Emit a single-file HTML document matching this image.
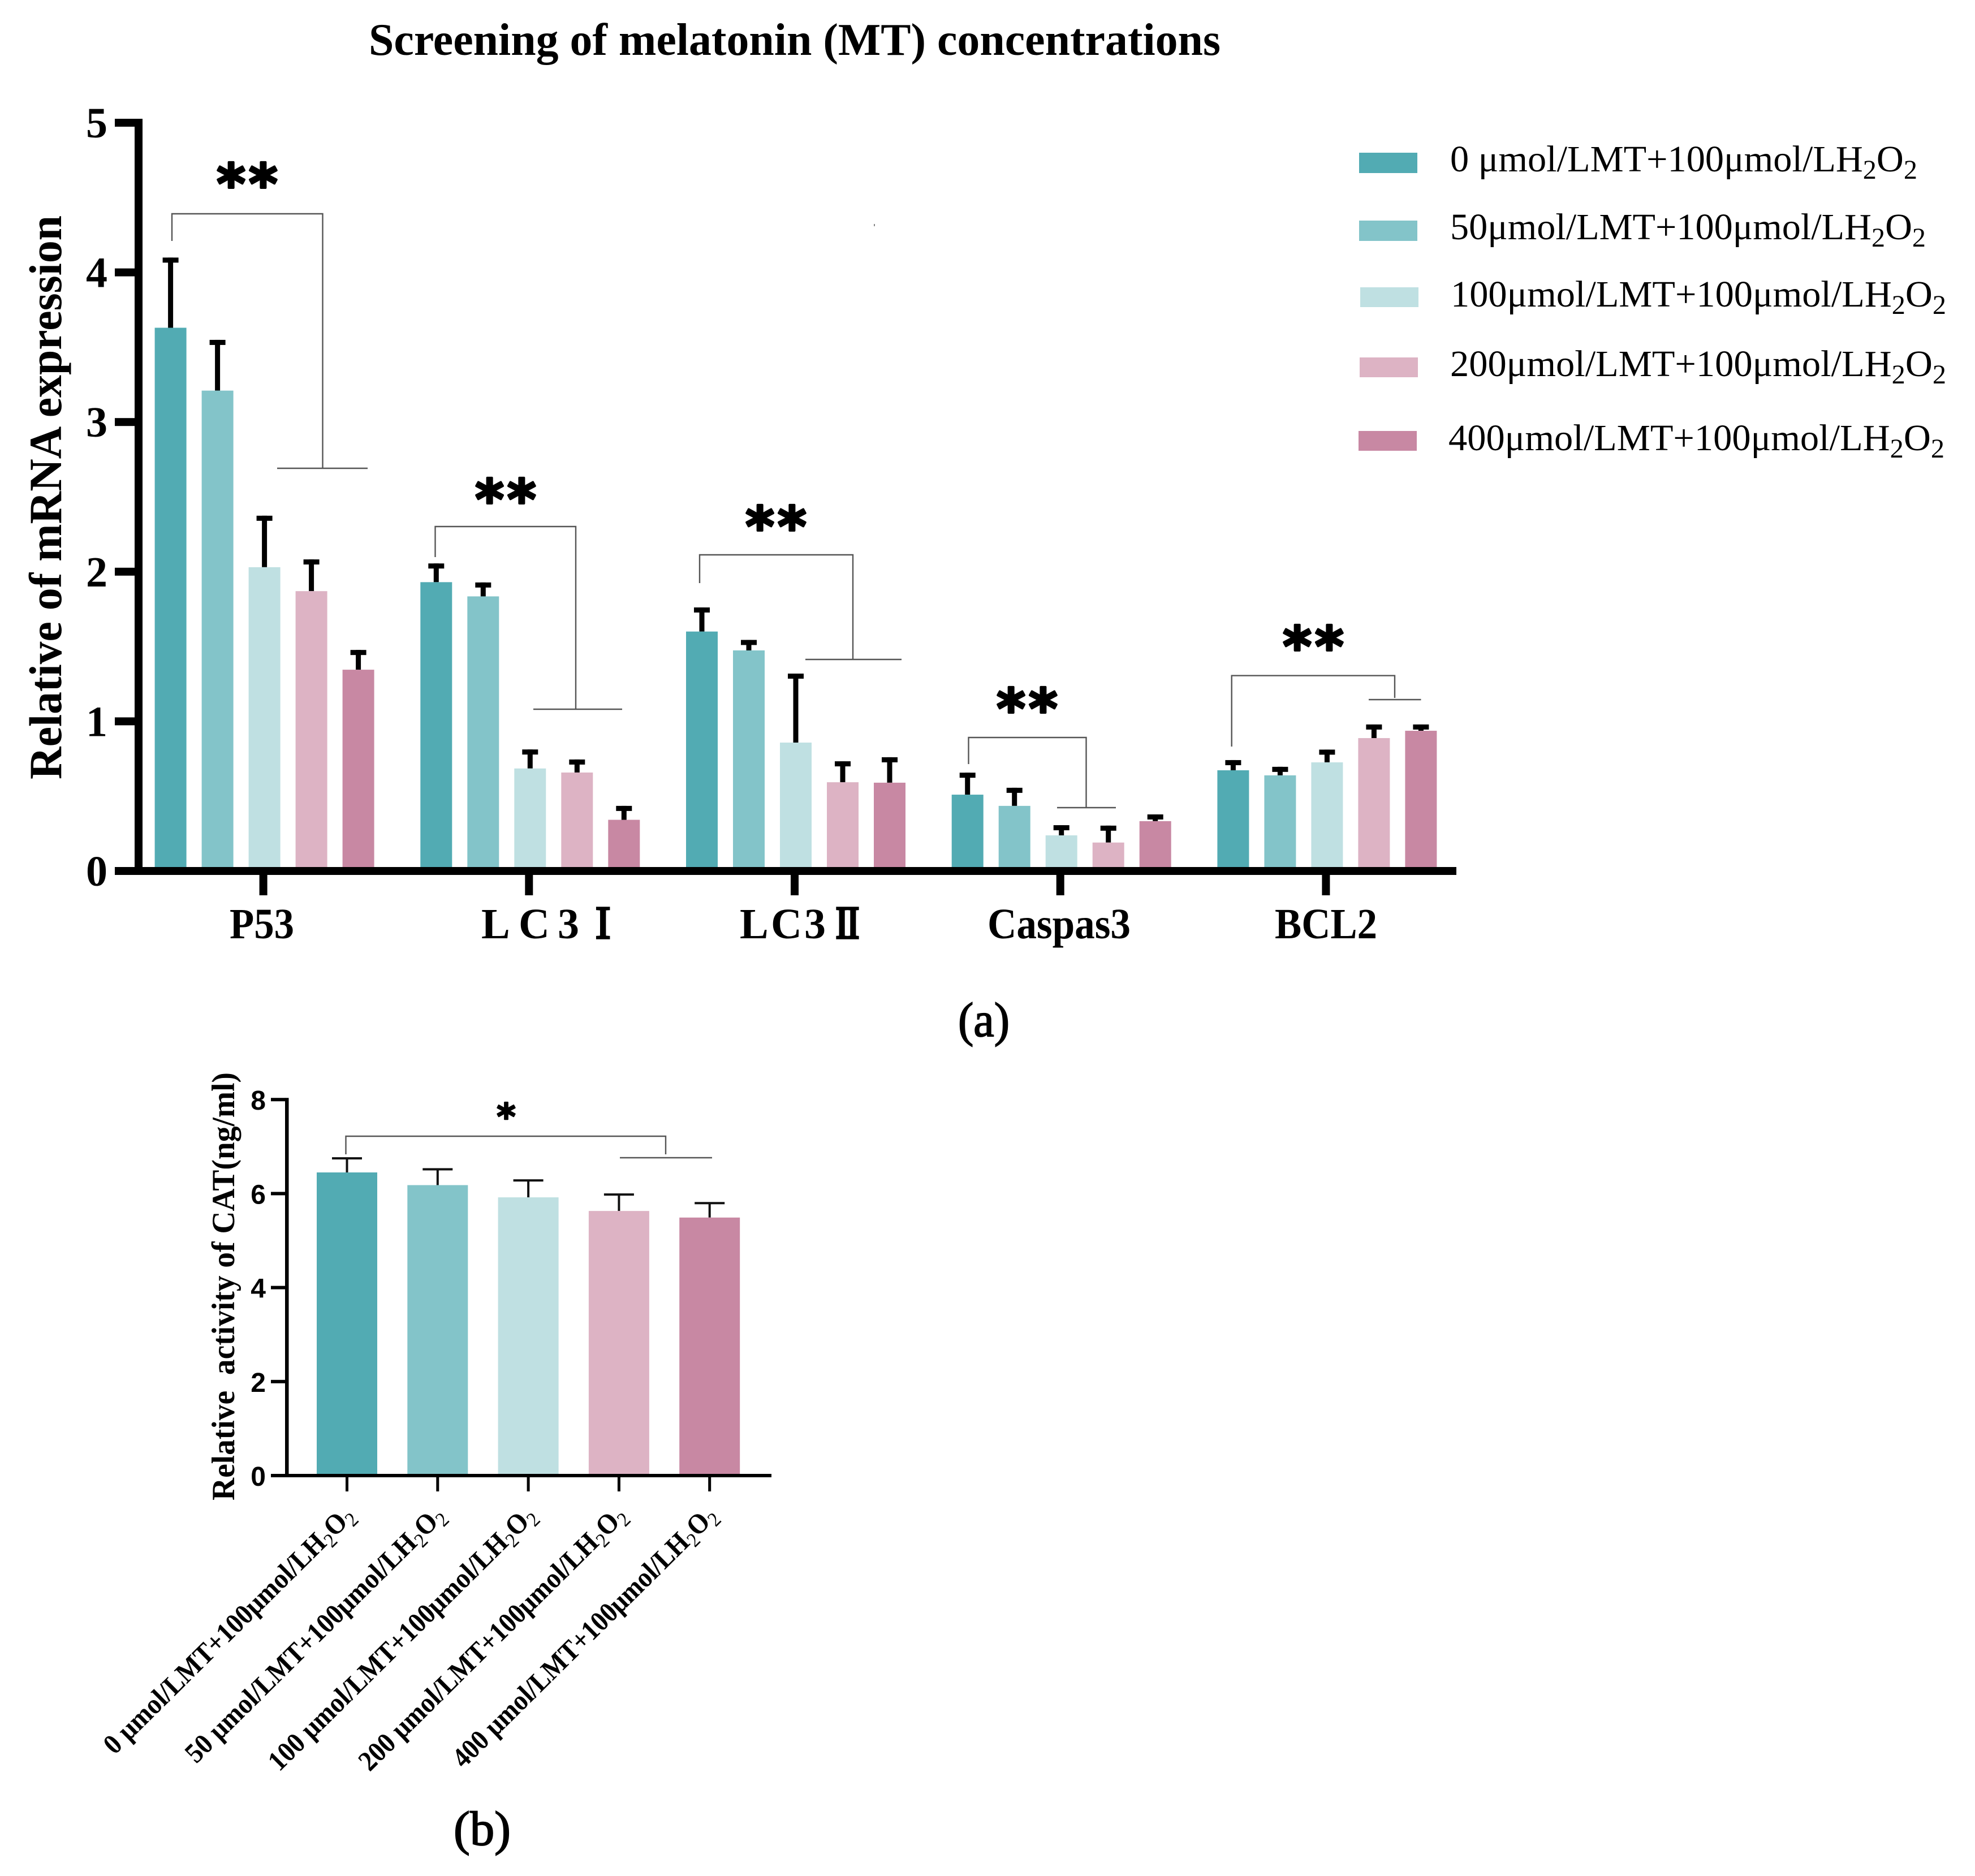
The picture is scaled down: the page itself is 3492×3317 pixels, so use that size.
<!DOCTYPE html>
<html lang="en">
<head>
<meta charset="utf-8">
<title>Screening of melatonin (MT) concentrations</title>
<style>
html,body{margin:0;padding:0;background:#fff}
svg{display:block}
text{font-family:"Liberation Serif","Noto Serif CJK SC",serif;fill:#000;white-space:pre}
.b{font-weight:bold}
.star{font-family:"DejaVu Sans",sans-serif;font-weight:bold;text-anchor:middle;stroke:#000;stroke-width:4;stroke-linejoin:round}
.leg{font-size:66px}
.br{stroke:#555;stroke-width:2.4;fill:none}
.num{stroke:#000;stroke-width:3.5}
.rot{font-size:50px;font-weight:bold;text-anchor:end}
.rot tspan.s{font-size:36px;font-weight:normal}
</style>
</head>
<body>
<svg id="figure" xmlns="http://www.w3.org/2000/svg" width="3492" height="3317" viewBox="0 0 3492 3317">
  <rect width="3492" height="3317" fill="#fff"/>
  <text class="b" x="652" y="97" font-size="80" textLength="1506" lengthAdjust="spacingAndGlyphs">Screening of melatonin (MT) concentrations</text>

  <g id="chartA"></g>
  <text class="b" transform="translate(108,1378) rotate(-90)" font-size="82" textLength="997" lengthAdjust="spacingAndGlyphs">Relative of mRNA expression</text>

  <text class="b" x="406" y="1659" font-size="76" textLength="114" lengthAdjust="spacingAndGlyphs">P53</text>
  <g>
    <text class="b" y="1659" font-size="76"><tspan x="851">L </tspan><tspan x="917">C </tspan><tspan x="986">3</tspan></text>
    <text class="b num" transform="translate(1060,1659) scale(.78,1)" x="-28" font-size="72">Ⅰ</text>
  </g>
  <g>
    <text class="b" y="1659" font-size="76"><tspan x="1308">L</tspan><tspan x="1363">C</tspan><tspan x="1422">3</tspan></text>
    <text class="b num" transform="translate(1481,1659) scale(.76,1)" x="-13" font-size="72">Ⅱ</text>
  </g>
  <text class="b" x="1746" y="1659" font-size="76" textLength="253" lengthAdjust="spacingAndGlyphs">Caspas3</text>
  <text class="b" x="2254" y="1659" font-size="76" textLength="181" lengthAdjust="spacingAndGlyphs">BCL2</text>

  <g>
    <path class="br" d="M304 426V378H570.5V828M490 828H650"/>
    <path class="br" d="M769.5 985V931H1018V1254M943 1254H1100"/>
    <path class="br" d="M1237 1031V981H1508V1166M1424 1166H1594"/>
    <path class="br" d="M1712.5 1351V1304H1920.5V1428M1869 1428H1973"/>
    <path class="br" d="M2177.7 1320V1194.6H2466V1234M2420 1237H2512.5"/>
  </g>
  <text class="star" x="440" y="359" font-size="97" letter-spacing="6">**</text>
  <text class="star" x="897" y="917" font-size="97" letter-spacing="6">**</text>
  <text class="star" x="1375" y="965" font-size="97" letter-spacing="6">**</text>
  <text class="star" x="1819" y="1287" font-size="97" letter-spacing="6">**</text>
  <text class="star" x="2325" y="1177" font-size="97" letter-spacing="6">**</text>
  <rect x="1545" y="396" width="2" height="4" fill="#888"/>

  <g>
    <g>
      <rect x="2403" y="270" width="103" height="36" fill="#52abb3"/>
      <text class="leg" x="2564" y="303" textLength="826" lengthAdjust="spacingAndGlyphs">0 μmol/LMT+100μmol/LH<tspan font-size="48" dy="13">2</tspan><tspan dy="-13">O</tspan><tspan font-size="48" dy="13">2</tspan></text>
    </g>
    <g>
      <rect x="2403" y="390" width="103" height="36" fill="#83c4c9"/>
      <text class="leg" x="2564" y="423" textLength="841" lengthAdjust="spacingAndGlyphs">50μmol/LMT+100μmol/LH<tspan font-size="48" dy="13">2</tspan><tspan dy="-13">O</tspan><tspan font-size="48" dy="13">2</tspan></text>
    </g>
    <g>
      <rect x="2405" y="508" width="103" height="35" fill="#bfe0e2"/>
      <text class="leg" x="2565" y="542" textLength="876" lengthAdjust="spacingAndGlyphs">100μmol/LMT+100μmol/LH<tspan font-size="48" dy="13">2</tspan><tspan dy="-13">O</tspan><tspan font-size="48" dy="13">2</tspan></text>
    </g>
    <g>
      <rect x="2404" y="632" width="103" height="35" fill="#ddb3c4"/>
      <text class="leg" x="2564" y="665" textLength="877" lengthAdjust="spacingAndGlyphs">200μmol/LMT+100μmol/LH<tspan font-size="48" dy="13">2</tspan><tspan dy="-13">O</tspan><tspan font-size="48" dy="13">2</tspan></text>
    </g>
    <g>
      <rect x="2402" y="762" width="103" height="35" fill="#c888a3"/>
      <text class="leg" x="2561" y="796" textLength="877" lengthAdjust="spacingAndGlyphs">400μmol/LMT+100μmol/LH<tspan font-size="48" dy="13">2</tspan><tspan dy="-13">O</tspan><tspan font-size="48" dy="13">2</tspan></text>
    </g>
  </g>

  <text x="1694" y="1832" font-size="86" textLength="91" lengthAdjust="spacingAndGlyphs" stroke="#000" stroke-width="1.8">(a)</text>

  <g id="chartB"></g>
  <text class="b" transform="translate(414,2653) rotate(-90)" font-size="57" textLength="757" lengthAdjust="spacingAndGlyphs">Relative  activity of CAT(ng/ml)</text>
  <path class="br" d="M611.5 2041V2009H1177V2041M1096 2047H1259"/>
  <text class="star" x="895" y="1997" font-size="64" style="stroke-width:2.5">*</text>

  <g>
    <text class="rot" transform="translate(629,2682) rotate(-44.7)" textLength="600" lengthAdjust="spacingAndGlyphs">0 μmol/LMT+100μmol/LH<tspan class="s" dy="10">2</tspan><tspan dy="-10">O</tspan><tspan class="s" dy="10">2</tspan></text>
    <text class="rot" transform="translate(789,2682) rotate(-44.7)" textLength="622" lengthAdjust="spacingAndGlyphs">50 μmol/LMT+100μmol/LH<tspan class="s" dy="10">2</tspan><tspan dy="-10">O</tspan><tspan class="s" dy="10">2</tspan></text>
    <text class="rot" transform="translate(950,2682) rotate(-44.7)" textLength="642" lengthAdjust="spacingAndGlyphs">100 μmol/LMT+100μmol/LH<tspan class="s" dy="10">2</tspan><tspan dy="-10">O</tspan><tspan class="s" dy="10">2</tspan></text>
    <text class="rot" transform="translate(1110,2682) rotate(-44.7)" textLength="642" lengthAdjust="spacingAndGlyphs">200 μmol/LMT+100μmol/LH<tspan class="s" dy="10">2</tspan><tspan dy="-10">O</tspan><tspan class="s" dy="10">2</tspan></text>
    <text class="rot" transform="translate(1270,2682) rotate(-44.7)" textLength="634" lengthAdjust="spacingAndGlyphs">400 μmol/LMT+100μmol/LH<tspan class="s" dy="10">2</tspan><tspan dy="-10">O</tspan><tspan class="s" dy="10">2</tspan></text>
  </g>

  <text x="802" y="3262" font-size="86" textLength="101" lengthAdjust="spacingAndGlyphs" stroke="#000" stroke-width="1.8">(b)</text>
</svg>

<script>
// Panel (a): relative mRNA expression
const genes = ["P53", "LC3 I", "LC3 II", "Caspas3", "BCL2"];
const ticksA = [0, 1, 2, 3, 4, 5];
const mean0 = [3.63, 1.93, 1.60, 0.51, 0.673];
const mean50 = [3.21, 1.835, 1.474, 0.435, 0.639];
const mean100 = [2.03, 0.685, 0.858, 0.238, 0.726];
const mean200 = [1.87, 0.658, 0.593, 0.19, 0.888];
const mean400 = [1.345, 0.342, 0.59, 0.333, 0.937];
const err0 = [0.469, 0.125, 0.161, 0.147, 0.068];
const err50 = [0.339, 0.093, 0.07, 0.121, 0.057];
const err100 = [0.344, 0.127, 0.461, 0.068, 0.085];
const err200 = [0.212, 0.087, 0.14, 0.113, 0.091];
const err400 = [0.132, 0.093, 0.17, 0.045, 0.042];
const colors = ["#52abb3", "#83c4c9", "#bfe0e2", "#ddb3c4", "#c888a3"];

// Panel (b): CAT activity
const ticksB = [0, 2, 4, 6, 8];
const catMeans = [6.45, 6.18, 5.92, 5.63, 5.49];
const catErrs = [0.30, 0.337, 0.36, 0.35, 0.307];

const NS = "http://www.w3.org/2000/svg";
function mk(parent, tag, attrs) {
  const e = document.createElementNS(NS, tag);
  for (const k in attrs) e.setAttribute(k, attrs[k]);
  parent.appendChild(e);
  return e;
}

// axis functions for panel (a)
const yA = v => 1540 - 264.6 * v;
const xA = (g, s) => 273.6 + 469.7 * g + 83 * s;
const tickXA = g => 465.6 + 469.7 * g;
const BAR_A = 56;

const gA = document.getElementById("chartA");
const meansA = [mean0, mean50, mean100, mean200, mean400];
const errsA = [err0, err50, err100, err200, err400];

meansA.forEach((series, s) => {
  series.forEach((v, g) => {
    const x = xA(g, s);
    const cx = x + BAR_A / 2;
    const top = yA(v + errsA[s][g]);
    const stem = mk(gA, "rect", { x: cx - 4.5, y: top, width: 9, height: yA(v) - top, fill: "#000" });
    
    
    const cap = mk(gA, "rect", { x: cx - 14, y: top, width: 28, height: 9, fill: "#000" });
    
    
    const bar = mk(gA, "rect", { x: x, y: yA(v), width: BAR_A, height: yA(0) - yA(v), fill: colors[s] });
    
    
  });
});

const axisYA = mk(gA, "rect", { x: 238, y: yA(5) - 7, width: 14, height: yA(0) - yA(5) + 14, fill: "#000" });


const axisXA = mk(gA, "rect", { x: 203, y: yA(0) - 7, width: 2372, height: 14, fill: "#000" });



ticksA.forEach(t => {
  const tick = mk(gA, "rect", { x: 203, y: yA(t) - 7, width: 36, height: 14, fill: "#000" });
  
  
  const label = mk(gA, "text", { x: 190, y: yA(t) + 26, "text-anchor": "end", "font-size": 76, "font-weight": "bold" });
  
  
  label.textContent = String(t);
});
genes.forEach((name, g) => {
  const tick = mk(gA, "rect", { x: tickXA(g) - 7, y: yA(0) + 6, width: 14, height: 37, fill: "#000" });
  
  
});

// axis functions for panel (b)
const yB = v => 2609 - 83.1 * v;
const xB = i => 560 + 160.3 * i;
const BAR_B = 107;

const gB = document.getElementById("chartB");
catMeans.forEach((v, i) => {
  const x = xB(i);
  const cx = x + BAR_B / 2;
  const top = yB(v + catErrs[i]);
  const stem = mk(gB, "rect", { x: cx - 2, y: top, width: 4, height: yB(v) - top, fill: "#111" });
  
  
  const cap = mk(gB, "rect", { x: cx - 26.5, y: top - 2, width: 53, height: 4, fill: "#111" });
  
  
  const bar = mk(gB, "rect", { x: x, y: yB(v), width: BAR_B, height: yB(0) - yB(v), fill: colors[i] });
  
  
  const tick = mk(gB, "rect", { x: cx - 2.5, y: yB(0), width: 5, height: 28, fill: "#000" });
  
  
});

const axisYB = mk(gB, "rect", { x: 504, y: yB(8) - 3, width: 6.5, height: yB(0) - yB(8) + 6, fill: "#000" });


const axisXB = mk(gB, "rect", { x: 480, y: yB(0) - 3, width: 884, height: 6, fill: "#000" });



ticksB.forEach(t => {
  const tick = mk(gB, "rect", { x: 479, y: yB(t) - 3, width: 26, height: 6, fill: "#000" });
  
  
  const label = mk(gB, "text", { x: 470, y: yB(t) + 18, "text-anchor": "end", "font-size": 48, "font-weight": "bold", style: 'font-family:"Liberation Sans",sans-serif' });
  
  
  label.textContent = String(t);
});
</script>
</body>
</html>
